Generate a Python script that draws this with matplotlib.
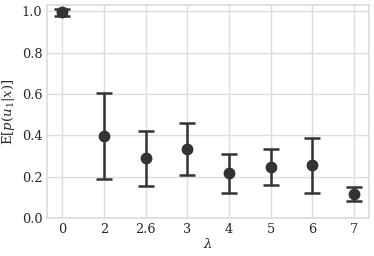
import matplotlib
matplotlib.use("Agg")
import matplotlib.pyplot as plt
import seaborn as sns
import numpy as np

# lambda categories and estimated means / CI bounds
lambdas = ["0", "2", "2.6", "3", "4", "5", "6", "7"]
means = [0.995, 0.398, 0.290, 0.333, 0.220, 0.245, 0.255, 0.115]
lower = [0.975, 0.191, 0.157, 0.208, 0.123, 0.160, 0.123, 0.083]
upper = [1.010, 0.606, 0.423, 0.460, 0.312, 0.332, 0.385, 0.150]

sns.set_theme(style="whitegrid", rc={"grid.color": "#dddddd",
                                     "axes.edgecolor": "#dddddd"})
plt.rcParams["font.family"] = ["DejaVu Serif"]
plt.rcParams["mathtext.fontset"] = "dejavuserif"

fig, ax = plt.subplots(figsize=(3.74, 2.56), dpi=100)
x = np.arange(len(lambdas))
m = np.array(means)
yerr = [m - np.array(lower), np.array(upper) - m]
ax.errorbar(x, m, yerr=yerr, fmt="o", color="#333333", ms=7.5,
            elinewidth=1.8, capsize=6, capthick=1.8)

ax.set_xticks(x)
ax.set_xticklabels(lambdas)
ax.set_xlim(-0.36, len(lambdas) - 1 + 0.36)
ax.set_ylim(0, 1.03)
ax.set_yticks([0.0, 0.2, 0.4, 0.6, 0.8, 1.0])
ax.tick_params(labelsize=9.3, length=0, pad=3.5)
ax.set_xlabel(r"$\lambda$", fontsize=9.5, labelpad=1)
ax.set_ylabel(r"$\mathrm{E}[p(u_1|x)]$", fontsize=9.5, labelpad=3)

fig.subplots_adjust(left=0.126, right=0.987, top=0.98, bottom=0.148)
fig.savefig("out.png", dpi=100)
plt.close(fig)
